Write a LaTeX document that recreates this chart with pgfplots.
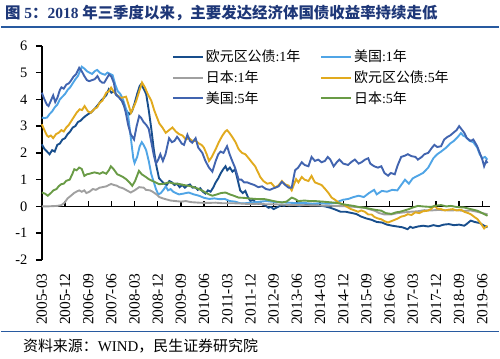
\documentclass[border=0pt]{standalone}
\usepackage{fontspec}
\setmainfont{Liberation Serif}
\newfontfamily\cjk{Noto Sans CJK SC}
\usepackage{pgfplots}
\pgfplotsset{compat=1.18}
\definecolor{euroone}{RGB}{24,78,140}
\definecolor{usone}{RGB}{80,165,230}
\definecolor{jpone}{RGB}{160,160,160}
\definecolor{eurofive}{RGB}{225,170,30}
\definecolor{usfive}{RGB}{65,100,175}
\definecolor{jpfive}{RGB}{105,155,70}
\definecolor{titleblue}{RGB}{30,55,120}
\definecolor{ruleblue}{RGB}{40,90,160}
\begin{document}
\begin{tikzpicture}[x=1pt,y=1pt]
\path (0,0) rectangle (500,360);
\node[anchor=west, text=titleblue, font=\bfseries\fontsize{15.5}{15.5}\selectfont, inner sep=0pt] at (4,347) {{\cjk\bfseries 图} 5{\cjk\bfseries ：}2018 {\cjk\bfseries 年三季度以来，主要发达经济体国债收益率持续走低}};
\draw[ruleblue, line width=2pt] (0,333) -- (500,333);
\draw[ruleblue, line width=0.8pt] (0,27) -- (500,27);
\node[anchor=west, font=\fontsize{15}{15}\selectfont, inner sep=0pt] at (22,13) {{\cjk 资料来源：}WIND{\cjk ，民生证券研究院}};
\begin{axis}[
  at={(41pt,99pt)}, anchor=south west, scale only axis,
  width=450pt, height=215pt,
  xmin=0, xmax=174, ymin=-2, ymax=6,
  axis x line*=bottom, axis y line*=left,
  axis line style={-},
  x axis line style={draw=none},
  y axis line style={line width=1.6pt, black},
  xtick={0,9,...,171},
  xticklabels={2005-03,2005-12,2006-09,2007-06,2008-03,2008-12,2009-09,2010-06,2011-03,2011-12,2012-09,2013-06,2014-03,2014-12,2015-09,2016-06,2017-03,2017-12,2018-09,2019-06},
  x tick style={draw=none},
  xticklabel shift=4pt,
  xticklabel style={rotate=90, anchor=east, font=\fontsize{15.5}{15.5}\selectfont},
  ytick={-2,-1,0,1,2,3,4,5,6},
  y tick style={line width=1.6pt, black},
  major tick length=6pt,
  tick align=outside,
  yticklabel shift=5pt,
  yticklabel style={font=\fontsize{14.5}{14.5}\selectfont, /pgf/number format/assume math mode=true},
  clip=false,
  legend columns=2,
  legend cell align=left,
  legend style={draw=none, fill=none, at={(0.29,0.99)}, anchor=north west, font=\fontsize{14}{15}\selectfont, row sep=3.5pt, inner sep=0pt,
    /tikz/every even column/.append style={column sep=18pt}},
  legend image code/.code={\draw[#1, line width=2pt] (0pt,0pt) -- (30pt,0pt);},
  every axis plot/.append style={line width=1.9pt},
]
\addplot[black, line width=1.6pt, forget plot] coordinates {(0,0)(174,0)};
\addplot[black, line width=1.3pt, ycomb, forget plot] coordinates {(9,0.2)(18,0.2)(27,0.2)(36,0.2)(45,0.2)(54,0.2)(63,0.2)(72,0.2)(81,0.2)(90,0.2)(99,0.2)(108,0.2)(117,0.2)(126,0.2)(135,0.2)(144,0.2)(153,0.2)(162,0.2)(171,0.2)};
% Euro 1Y
\addplot[euroone, line width=1.9pt] coordinates {
(0,2.32)(1,2.15)(2,2.05)(3,1.95)(4,2.1)(5,2.05)(6,2.3)(7,2.35)(8,2.5)(9,2.55)(10,2.7)(11,2.8)(12,2.95)(13,3.0)(14,3.15)(15,3.2)(16,3.3)(17,3.38)(18,3.45)(19,3.5)(20,3.6)(21,3.7)(22,3.82)(23,3.95)(24,4.05)(25,4.15)(26,4.38)(27,4.25)(28,4.3)(29,4.15)(30,4.1)(31,3.95)(32,3.75)(33,3.55)(34,3.45)(35,3.55)(36,3.85)(37,4.2)(38,4.5)(38.5,4.56)(39.5,4.4)(40.5,4.2)(41.5,3.6)(42.5,2.9)(43.5,2.1)(44.5,1.5)(45.5,1.05)(46.5,0.95)(47.5,0.85)(48.5,0.8)(49.5,0.95)(50.5,0.9)(51.5,0.8)(52.5,0.85)(53.5,0.72)(54.5,0.8)(55.5,0.7)(56.5,0.78)(57.5,0.82)(58.5,0.7)(59.5,0.72)(60.5,0.62)(61.5,0.68)(62.5,0.55)(63.5,0.48)(64.5,0.6)(65.5,0.55)(66.5,0.7)(67.5,0.9)(68.5,1.05)(69.5,1.25)(70.5,1.4)(71.3,1.5)(72,1.35)(73,1.45)(74,1.3)(75,1.38)(76,1.0)(77,0.6)(78,0.5)(79,0.58)(80,0.35)(81,0.2)(82,0.25)(83,0.15)(84,0.1)(85,0.12)(86,0.05)(87,0.02)(88,-0.05)(89,-0.02)(90,-0.1)(91,-0.05)(92,0.0)(93,0.05)(94,0.02)(95,0.06)(96,0.03)(98,0.05)(100,0.02)(102,0.06)(104,0.05)(106,0.05)(108,0.03)(110,0.0)(112,-0.05)(114,-0.12)(116,-0.2)(118,-0.2)(120,-0.24)(122,-0.28)(124,-0.38)(126,-0.45)(128,-0.5)(130,-0.58)(132,-0.6)(134,-0.68)(136,-0.72)(138,-0.75)(140,-0.78)(142,-0.85)(143,-0.76)(144,-0.8)(146,-0.75)(148,-0.72)(150,-0.75)(152,-0.7)(154,-0.74)(156,-0.68)(158,-0.66)(160,-0.7)(162,-0.68)(164,-0.72)(165,-0.65)(166.5,-0.53)(168,-0.58)(170,-0.62)(171.7,-0.72)(173,-0.78)};
\addlegendentry{{\cjk 欧元区公债}:1{\cjk 年}}
% US 1Y
\addplot[usone, line width=1.9pt] coordinates {
(0,3.32)(1,3.3)(2,3.32)(3,3.45)(4,3.55)(5,3.7)(6,3.8)(7,4.0)(8,4.1)(9,4.2)(10,4.35)(11,4.45)(12,4.6)(13,4.75)(14,4.87)(15,5.1)(15.5,5.22)(16.5,5.15)(17.5,5.05)(18.5,5.0)(19.5,4.95)(20.5,5.05)(21.5,5.1)(22.5,5.0)(23.5,4.95)(24.5,4.92)(25.5,5.0)(26.5,4.95)(27.5,4.9)(28.5,4.55)(29.5,4.3)(30.5,4.2)(31.5,4.0)(32.5,3.7)(33.5,3.4)(34.5,2.6)(35.5,1.8)(36,1.62)(37,1.85)(38,2.25)(38.8,2.4)(39.5,2.3)(40.5,2.1)(41.5,1.7)(42.5,1.2)(43.5,0.9)(44.3,0.65)(45.2,0.45)(46.2,0.5)(47.2,0.62)(48.1,0.75)(49,0.6)(50,0.65)(51,0.55)(52,0.5)(53.3,0.45)(55,0.48)(57,0.52)(59,0.45)(61,0.4)(63,0.32)(65,0.28)(67,0.3)(69,0.27)(71,0.28)(73,0.2)(75,0.18)(77,0.12)(79,0.12)(81,0.14)(84,0.17)(87,0.2)(90,0.17)(93,0.15)(96,0.14)(99,0.12)(102,0.13)(105,0.1)(108,0.12)(111,0.1)(113,0.12)(115,0.18)(117,0.25)(119,0.28)(121,0.35)(123,0.4)(125,0.35)(127,0.5)(129,0.62)(130,0.45)(132,0.58)(134,0.55)(136,0.62)(138,0.6)(139.5,0.8)(141,1.0)(142.5,0.85)(144,1.05)(146,1.15)(148,1.25)(150,1.45)(152,1.8)(153.5,1.95)(155,2.05)(157,2.2)(158.5,2.35)(160,2.45)(161.5,2.6)(162.7,2.74)(163.5,2.65)(164.5,2.6)(166,2.45)(167.5,2.4)(169,2.2)(170,1.95)(171,1.8)(172,1.85)(173,1.75)};
\addlegendentry{{\cjk 美国}:1{\cjk 年}}
% Japan 1Y
\addplot[jpone, line width=1.9pt] coordinates {
(0,0)(2,0.0)(4,0.01)(6,0.02)(7.6,0.05)(8.8,0.14)(10,0.3)(11.3,0.4)(12.5,0.5)(13.4,0.55)(14.5,0.6)(15.5,0.55)(16.5,0.6)(17.3,0.5)(18.5,0.55)(19.8,0.65)(21,0.62)(22.4,0.7)(23.5,0.72)(25,0.75)(26,0.8)(26.9,0.84)(28,0.8)(29,0.78)(30.1,0.72)(31.5,0.68)(33,0.6)(34.5,0.52)(36,0.6)(37.8,0.72)(39.6,0.7)(40.4,0.62)(42,0.6)(43,0.55)(44.5,0.45)(45.6,0.35)(47,0.3)(48.1,0.27)(50,0.22)(52,0.2)(54,0.18)(55.9,0.2)(58,0.16)(61,0.14)(64,0.13)(67.5,0.14)(70,0.12)(73.9,0.12)(77,0.11)(80.3,0.09)(84,0.1)(87,0.08)(90,0.08)(95,0.06)(100,0.05)(105,0.04)(110,0.03)(114,0.02)(118.9,0.0)(122,-0.02)(125.4,-0.05)(127,-0.1)(129.2,-0.16)(131,-0.25)(133,-0.3)(135.7,-0.3)(138,-0.25)(140.8,-0.22)(143,-0.2)(146,-0.18)(148.5,-0.14)(151.1,-0.15)(154,-0.13)(156,-0.14)(158.8,-0.15)(161,-0.14)(164,-0.17)(166.5,-0.15)(169,-0.2)(171,-0.25)(173,-0.29)};
\addlegendentry{{\cjk 日本}:1{\cjk 年}}
% Euro 5Y
\addplot[eurofive, line width=1.9pt] coordinates {
(0,3.07)(1,2.85)(2,2.65)(2.6,2.6)(3.5,2.65)(4.4,2.55)(5.5,2.7)(6.5,2.75)(7.6,2.85)(8.5,2.8)(9.5,2.95)(10.5,3.05)(11.5,3.2)(12.5,3.35)(13.5,3.5)(14.7,3.63)(15.6,3.6)(16.6,3.75)(17.9,3.55)(19,3.5)(20.5,3.65)(21.5,3.7)(22.4,3.87)(23.5,3.95)(25,4.25)(26,4.3)(26.9,4.44)(27.8,4.3)(28.8,4.2)(29.8,4.1)(30.8,4.05)(31.4,4.07)(32.7,4.1)(33.5,3.85)(34.6,3.5)(35.6,3.7)(36.6,3.93)(37.8,4.3)(38.9,4.63)(40,4.45)(41.1,4.2)(42.5,3.95)(43.6,3.6)(44.6,3.35)(45.6,3.1)(46.8,2.95)(48.1,2.75)(49.4,2.85)(50.7,2.95)(52,2.8)(53.3,2.7)(54.6,2.65)(55.9,2.5)(57.1,2.55)(58.4,2.45)(59.7,2.45)(61,2.35)(62,2.3)(62.9,2.2)(64,1.95)(64.9,1.7)(66,1.85)(67.5,2.14)(68.7,2.4)(70,2.63)(71.2,2.8)(71.9,2.85)(72.8,2.75)(73.9,2.6)(75.2,2.4)(76.4,2.14)(77.7,2.0)(79,1.95)(80.3,1.8)(81.6,1.64)(82.8,1.5)(83.8,1.3)(84.8,1.1)(86,0.95)(87.5,0.85)(89,0.88)(90.6,0.7)(92,0.8)(93.2,0.95)(94.5,0.82)(95.8,0.78)(97,0.6)(98,0.85)(98.7,1.02)(99.6,0.9)(100.9,1.1)(102,1.0)(103.5,0.95)(104.7,1.14)(106,0.9)(107.3,0.85)(108.6,0.8)(110,0.65)(111.3,0.5)(112.5,0.33)(113.8,0.25)(115.1,0.15)(116.3,0.1)(117.6,0.05)(118.9,-0.04)(120,-0.1)(121.5,-0.15)(122.8,-0.2)(124,-0.15)(125.4,-0.2)(126.7,-0.3)(128,-0.3)(129.2,-0.4)(130.5,-0.45)(131.8,-0.48)(133,-0.55)(134.4,-0.6)(135.7,-0.55)(137,-0.5)(138.2,-0.45)(139.5,-0.38)(140.8,-0.35)(142.1,-0.29)(143.5,-0.32)(145,-0.22)(146.5,-0.25)(148,-0.18)(149.8,-0.16)(151,-0.1)(152.4,0.02)(153.5,-0.08)(155,-0.1)(156.5,-0.15)(158,-0.12)(159.5,-0.1)(161,-0.15)(162.7,-0.12)(164,-0.2)(165.5,-0.25)(166.5,-0.29)(168,-0.4)(169.1,-0.47)(170.5,-0.65)(171.7,-0.82)(172.5,-0.75)(173,-0.72)};
\addlegendentry{{\cjk 欧元区公债}:5{\cjk 年}}
% US 5Y
\addplot[usfive, line width=1.9pt] coordinates {
(0,4.25)(1,4.0)(2,3.8)(2.6,3.75)(3.5,3.95)(4.4,4.15)(5.2,3.9)(6,4.05)(7,4.35)(7.6,4.45)(8.5,4.4)(9.5,4.55)(10.5,4.6)(11.3,4.7)(12.3,4.85)(13.3,4.94)(14.5,5.18)(15.5,5.05)(16.5,4.87)(17.5,4.72)(18.4,4.68)(19.5,4.72)(20.5,4.75)(21.6,4.87)(22.5,4.7)(23.5,4.62)(24.2,4.62)(25,4.75)(26.1,4.93)(27,4.85)(28,4.6)(28.7,4.19)(29.6,4.1)(30.6,4.0)(31.5,3.9)(32.6,3.5)(33.5,3.05)(34.5,2.7)(35.8,2.5)(36.8,3.0)(37.8,3.38)(38.6,3.3)(39.5,3.15)(40.5,3.05)(41.5,2.9)(42.5,2.4)(43.5,1.9)(44.3,1.6)(45.2,1.75)(46,1.95)(47,1.7)(48,1.95)(49.4,2.55)(50.5,2.4)(51.5,2.45)(52.5,2.6)(53.3,2.5)(54.3,2.35)(55.2,2.3)(56.5,2.68)(57.5,2.45)(58.4,2.38)(59.7,2.55)(60.7,2.2)(62.3,2.0)(63.5,1.7)(64.9,1.45)(66.2,1.3)(67.5,1.7)(68.5,1.95)(69.4,2.05)(70.5,2.0)(71.9,2.25)(72.9,1.95)(73.9,1.7)(75,1.45)(76.4,1.0)(77.5,1.0)(78.5,0.9)(79.7,0.9)(81,0.85)(82.5,0.8)(84,0.72)(85.5,0.75)(87,0.65)(88.5,0.62)(90,0.68)(91.9,0.75)(93.2,0.92)(94.5,0.8)(95.8,0.7)(97,0.7)(98.3,1.35)(99.5,1.45)(100.9,1.65)(102,1.55)(103.5,1.5)(104.7,1.85)(106,1.7)(107.3,1.75)(108.6,1.65)(109.9,1.7)(111,1.85)(112,1.75)(113.3,1.5)(114.5,1.65)(115.5,1.75)(117,1.6)(118.9,1.55)(120,1.65)(121.5,1.75)(123,1.6)(124.1,1.65)(125.5,1.75)(126.7,1.8)(127.5,1.6)(129,1.5)(130.5,1.45)(131.8,1.5)(133,1.25)(134.4,1.15)(135.5,1.25)(137,1.2)(138.2,1.55)(139.5,1.85)(141,1.9)(142.1,1.95)(143.5,1.88)(145,1.85)(146,1.75)(147.5,1.85)(148.5,1.95)(150,2.0)(151.5,2.2)(152.4,2.3)(153.5,2.22)(155,2.25)(156.2,2.5)(157.5,2.6)(158.5,2.65)(160.1,2.78)(161,2.85)(162,3.0)(162.8,2.9)(164,2.75)(165,2.55)(166.5,2.45)(167.5,2.5)(169,2.25)(170,2.0)(171,1.75)(171.7,1.5)(172.5,1.7)(173,1.62)};
\addlegendentry{{\cjk 美国}:5{\cjk 年}}
% Japan 5Y
\addplot[jpfive, line width=1.9pt] coordinates {
(0,0.52)(1.2,0.48)(2.3,0.4)(3.5,0.5)(4.5,0.6)(5.7,0.65)(6.5,0.75)(7.5,0.83)(8.5,0.85)(9.5,0.96)(10.8,1.0)(11.8,1.2)(12.6,1.39)(13.5,1.35)(14.5,1.45)(15.5,1.4)(16.5,1.14)(17.5,1.2)(18.5,1.22)(19.5,1.25)(20.4,1.27)(21.5,1.25)(22.5,1.22)(23.7,1.28)(25,1.22)(26,1.35)(26.8,1.5)(27.8,1.4)(29.3,1.2)(30.5,1.15)(31.5,1.1)(32.7,1.02)(34,0.9)(35.1,0.77)(36.2,0.95)(37.7,1.33)(38.8,1.2)(40.4,1.1)(41.5,1.02)(43,0.95)(44.5,0.88)(45.6,0.83)(47.5,0.85)(49.4,0.9)(51,0.86)(53.3,0.84)(55,0.8)(57.1,0.77)(59,0.72)(61,0.65)(63,0.55)(64.9,0.45)(66.2,0.4)(68,0.45)(69.5,0.5)(71.3,0.52)(73,0.45)(74.5,0.4)(76.4,0.33)(78.5,0.32)(80.3,0.3)(83,0.28)(86.7,0.27)(89,0.22)(91,0.18)(93.2,0.15)(95,0.18)(97,0.33)(98.3,0.28)(99.6,0.2)(102,0.22)(104,0.2)(106,0.2)(109,0.18)(112.5,0.15)(115,0.12)(117,0.08)(118.9,0.05)(121,0.02)(123,-0.02)(125.4,-0.05)(127,-0.08)(129,-0.12)(131.8,-0.16)(133.5,-0.25)(135.7,-0.28)(137.5,-0.22)(139,-0.2)(140.8,-0.15)(142.5,-0.1)(144,-0.04)(146,0.02)(148,0.0)(151.1,-0.02)(153,0.03)(155,0.05)(157,0.0)(158.8,0.02)(161,-0.02)(164,-0.04)(166.5,-0.1)(169.1,-0.16)(171,-0.25)(173,-0.35)};
\addlegendentry{{\cjk 日本}:5{\cjk 年}}
\end{axis}
\end{tikzpicture}
\end{document}
